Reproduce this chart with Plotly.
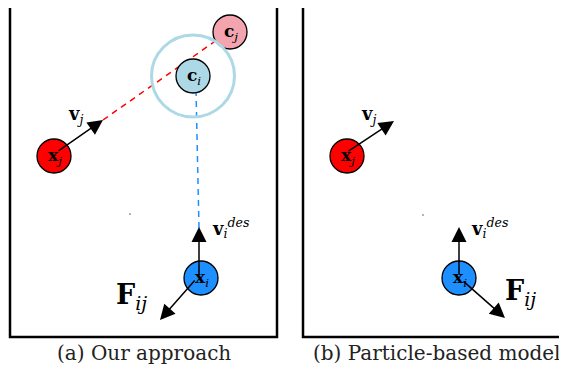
import plotly.graph_objects as go

# Node data (diagram coordinates: x right, y down, in canvas units)
node_names = ["c_j", "c_i", "x_j (a)", "x_i (a)", "x_j (b)", "x_i (b)"]
node_x = [230, 193, 54, 201, 347, 459]
node_y = [32, 76, 156, 278, 156, 278]
node_labels = ["<b>c</b><sub><i>j</i></sub>", "<b>c</b><sub><i>i</i></sub>",
               "<b>x</b><sub><i>j</i></sub>", "<b>x</b><sub><i>i</i></sub>",
               "<b>x</b><sub><i>j</i></sub>", "<b>x</b><sub><i>i</i></sub>"]
node_colors = ["#F4A4AE", "#ADD8E6", "#FF0000", "#1E8FFF", "#FF0000", "#1E8FFF"]

# Arrows: (tail x, tail y, head x, head y)
arrow_tail_x = [57, 199, 196, 347, 459, 462]
arrow_tail_y = [152, 276, 279, 152, 276, 280]
arrow_head_x = [103, 199, 160, 394, 459, 505]
arrow_head_y = [120, 227, 320, 121, 227, 318]

# Arrow labels
label_text = ["<b>v</b><sub><i>j</i></sub>", "<b>v</b><sub><i>i</i></sub><sup><i>des</i></sup>",
              "<b>F</b><sub><i>ij</i></sub>", "<b>v</b><sub><i>j</i></sub>",
              "<b>v</b><sub><i>i</i></sub><sup><i>des</i></sup>", "<b>F</b><sub><i>ij</i></sub>"]
label_x = [75, 231, 131, 368, 490, 520]
label_y = [115, 228, 296, 115, 228, 292]
label_size = [18, 18, 27, 18, 18, 27]

captions = ["(a) Our approach", "(b) Particle-based model"]
caption_x = [143.5, 436]
caption_y = [353, 353]

fig = go.Figure()

# dashed lines
fig.add_trace(go.Scatter(x=[103, 214], y=[120, 42], mode="lines",
                         line=dict(color="#FF0000", width=1.5, dash="6px,5px"), hoverinfo="skip"))
fig.add_trace(go.Scatter(x=[196, 199], y=[90, 228], mode="lines",
                         line=dict(color="#1E8FFF", width=1.5, dash="6px,5px"), hoverinfo="skip"))

# big ring around c_i
fig.add_shape(type="circle", xref="x", yref="y", x0=193 - 41.5, x1=193 + 41.5, y0=76 - 41, y1=76 + 41,
              line=dict(color="#ADD8E6", width=3))

# frames
fig.add_shape(type="rect", xref="x", yref="y", x0=10, x1=277, y0=-10, y1=337,
              line=dict(color="black", width=2.5))
fig.add_shape(type="rect", xref="x", yref="y", x0=303, x1=620, y0=-10, y1=337,
              line=dict(color="black", width=2.5))

# nodes
fig.add_trace(go.Scatter(x=node_x, y=node_y, mode="markers",
                         marker=dict(size=34, color=node_colors, line=dict(color="black", width=1.3)),
                         hoverinfo="skip"))

# small dots
fig.add_trace(go.Scatter(x=[130, 423], y=[214, 215], mode="markers",
                         marker=dict(size=1.5, color="#444"), hoverinfo="skip"))

for i in range(len(arrow_tail_x)):
    fig.add_annotation(x=arrow_head_x[i], y=arrow_head_y[i], ax=arrow_tail_x[i], ay=arrow_tail_y[i],
                       xref="x", yref="y", axref="x", ayref="y", text="", showarrow=True,
                       arrowhead=2, arrowsize=2, arrowwidth=1.5, arrowcolor="black")

for i in range(len(node_x)):
    fig.add_annotation(x=node_x[i] + 1, y=node_y[i], text=node_labels[i], showarrow=False,
                       font=dict(family="DejaVu Serif", size=17, color="black"))

for i in range(len(label_text)):
    fig.add_annotation(x=label_x[i], y=label_y[i], text=label_text[i], showarrow=False,
                       font=dict(family="DejaVu Serif", size=label_size[i], color="black"))

for i in range(len(captions)):
    fig.add_annotation(x=caption_x[i], y=caption_y[i], text=captions[i], showarrow=False,
                       font=dict(family="DejaVu Serif", size=20, color="#222"))

# page body has an 8px margin: size the figure and offset the ranges to keep canvas coordinates
fig.update_layout(width=559, height=362, margin=dict(l=0, r=0, t=0, b=0),
                  plot_bgcolor="white", paper_bgcolor="white", showlegend=False,
                  xaxis=dict(range=[8, 567], visible=False, fixedrange=True),
                  yaxis=dict(range=[370, 8], visible=False, fixedrange=True))

fig.write_html("out.html")
